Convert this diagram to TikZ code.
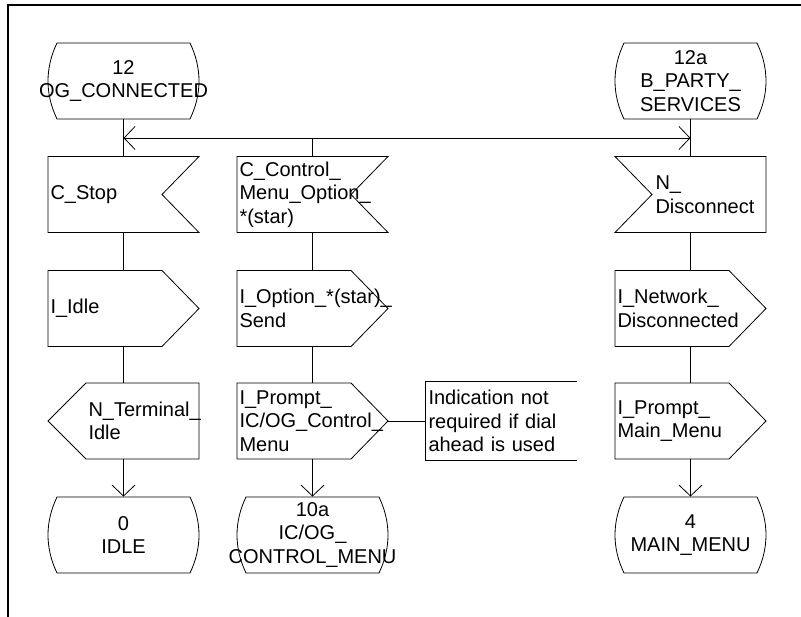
\documentclass[tikz,border=0pt]{standalone}
\usepackage{fontspec}
\setmainfont{Liberation Sans}
\usetikzlibrary{arrows.meta}

\newcommand\ind{\hspace*{38pt}}

\begin{document}
\begin{tikzpicture}[
x=1pt, y=-1pt,
line width=0.8pt,
font=\fontsize{20}{23.5}\selectfont,
>={Straight Barb[length=11pt,width=23pt]},
 statebox/.style = {minimum height=76pt, align=center, inner sep=0pt},
   sigbox/.style = {minimum width=151pt, minimum height=76pt, text width=146pt,
                    inner xsep=2.5pt, inner ysep=0pt, align=left},
  notebox/.style = {sigbox, minimum height=79pt}
                    ]
\useasboundingbox (0,0) rectangle (801,617);
% frame
\draw[line width=2pt] (8,617) -- (8,5) -- (801,5);
% left column
\node[statebox] (s12)   at (123.5, 81)   {12\\OG\_CONNECTED};
\node[sigbox]   (cstop) at (123.5,194.5) {C\_Stop};
\node[sigbox]   (iidle) at (123.5,308.5) {I\_Idle};
\node[sigbox]   (nterm) at (123.5,421)   {\ind N\_Terminal\_\\\ind Idle};
\node[statebox] (s0)    at (123.5,535)   {0\\IDLE};
% middle column
\node[sigbox]   (cctrl)   at (312.5,194.5) {C\_Control\_\\Menu\_Option\_\\{}*(star)};
\node[sigbox]   (iopt)    at (312.5,308.5) {I\_Option\_*(star)\_\\Send};
\node[sigbox]   (iprompt) at (312.5,421)   {I\_Prompt\_\\IC/OG\_Control\_\\Menu};
\node[statebox] (s10a)    at (312.5,535)   {10a\\IC/OG\_\\CONTROL\_MENU};
\node[notebox]  (note)    at (501.5,421)   {Indication not\\required if dial\\ahead is used};
% right column
\node[statebox] (s12a)  at (690.5, 81)   {12a\\B\_PARTY\_\\SERVICES};
\node[sigbox]   (ndisc) at (690.5,194.5) {\ind N\_\\\ind Disconnect};
\node[sigbox]   (inet)  at (690.5,308.5) {I\_Network\_\\Disconnected};
\node[sigbox]   (iprmm) at (690.5,421)   {I\_Prompt\_\\Main\_Menu};
\node[statebox] (s4)    at (690.5,535)   {4\\MAIN\_MENU};
% outlines
\foreach \n in {s12,s12a,s0,s10a,s4}
  \draw[shift={(\n.center)}] (0,-38) -- (66.5,-38) .. controls (78.5,-13) and (78.5,13) .. (66.5,38)
        -- (-66.5,38) .. controls (-78.5,13) and (-78.5,-13) .. (-66.5,-38) -- cycle;
\foreach \n in {cstop,cctrl}
  \draw[shift={(\n.center)}] (-75.5,-38) -- (75.5,-38) -- (38.5,0) -- (75.5,38) -- (-75.5,38) -- cycle;
\draw[shift={(ndisc.center)}] (-75.5,-38) -- (75.5,-38) -- (75.5,38) -- (-75.5,38) -- (-38.5,0) -- cycle;
\foreach \n in {iidle,iopt,inet,iprompt,iprmm}
  \draw[shift={(\n.center)}] (-75.5,-38) -- (38.5,-38) -- (75.5,0) -- (38.5,38) -- (-75.5,38) -- cycle;
\draw[shift={(nterm.center)}] (-37.5,-38) -- (75.5,-38) -- (75.5,38) -- (-37.5,38) -- (-75.5,0) -- cycle;
\draw (note.north east) -- (note.north west) -- (note.south west) -- (note.south east);
% connectors
\coordinate (jl) at (123.5,138);
\coordinate (jr) at (690.5,138);
\draw (s12.south) -- (cstop.north);
\draw (s12a.south) -- (ndisc.north);
\draw[<->] (jl) -- (jr);
\draw (cctrl.north |- jl) -- (cctrl.north);
\foreach \a/\b in {cstop/iidle, iidle/nterm, cctrl/iopt, iopt/iprompt, ndisc/inet, inet/iprmm}
  \draw (\a.south) -- (\b.north);
\foreach \a/\b in {nterm/s0, iprompt/s10a, iprmm/s4}
  \draw[->] (\a.south) -- (\b.north);
\draw (iprompt.east) -- (note.west);
\end{tikzpicture}
\end{document}
